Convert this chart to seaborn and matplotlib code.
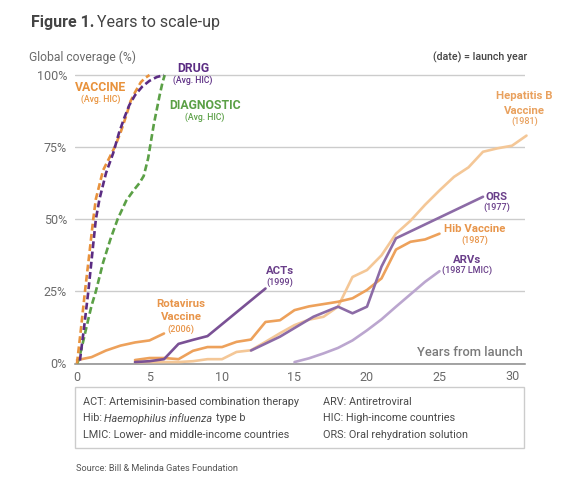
import numpy as np
import pandas as pd
import seaborn as sns
import matplotlib
matplotlib.use("Agg")
import matplotlib.pyplot as plt
from matplotlib.patches import Rectangle
from matplotlib.transforms import blended_transform_factory

# ---------------- data ----------------
vaccine_x = [0, 0.25, 0.55, 0.85, 1.12, 1.3, 1.8, 2.2, 2.6, 3.0, 3.4, 3.7, 4.0, 4.4, 4.7, 5.0]
vaccine_y = [0, 11, 25, 38, 50, 57, 67, 71, 75, 80, 86, 91, 94, 97.5, 99, 100]

drug_x = [0.2, 0.5, 0.78, 1.05, 1.3, 1.55, 2.0, 2.5, 2.9, 3.25, 3.6, 4.0, 4.5, 5.0, 5.5, 6.0]
drug_y = [1, 13, 25, 38, 50, 57, 66, 73, 80, 85, 89.5, 93, 96, 98, 99.3, 100]

diag_x = [0, 0.1, 0.35, 0.67, 1.0, 1.3, 1.8, 2.3, 2.8, 3.4, 3.9, 4.3, 4.6, 4.9, 5.1, 5.3, 5.5, 5.7, 5.9, 6.05]
diag_y = [0, 1, 6, 13, 20, 25, 35, 43, 50, 56.5, 60, 62.5, 65, 71, 77, 83, 88, 93, 97.5, 100]

rota_x = [0, 1, 2, 3, 4, 5, 6]
rota_y = [1.2, 2.2, 4.5, 6.2, 7.3, 8, 10.4]

acts_x = [4, 5, 6, 7, 8, 9, 13]
acts_y = [0.5, 0.8, 1.5, 6.8, 8.2, 9.5, 26]

hib_x = list(range(4, 26))
hib_y = [1.2, 1.9, 1.9, 1.5, 4.4, 5.7, 5.7, 7.5, 8.3, 14.4, 15, 18.5, 19.8, 20.6, 21.4,
         22.6, 25.5, 29.5, 39.5, 42.2, 43, 45]

hepb_x = list(range(4, 32))
hepb_y = [0.5, 0.5, 0.5, 0.5, 0.8, 1.5, 1.5, 4, 4.6, 7.5, 10.5, 13.3, 15.2, 16.2, 19.7,
          30, 32.4, 37.5, 45, 49.5, 55, 60, 64.7, 68, 73.4, 74.6, 75.5, 79]

ors_x = [12, 14, 16.3, 18, 19, 20, 21, 22, 28]
ors_y = [4.5, 9.3, 16.2, 19.7, 17.4, 19.7, 33.6, 43.4, 57.8]

arv_x = [15, 16, 17, 18, 19, 20, 21, 22, 23, 24, 25]
arv_y = [0.5, 1.8, 3.5, 5.4, 8, 11.5, 15.3, 19.7, 24, 28.3, 32]

y_ticks = [0, 25, 50, 75, 100]
y_ticklabels = ["0%", "25%", "50%", "75%", "100%"]
x_ticks = [0, 5, 10, 15, 20, 25]

# ---------------- figure ----------------
sns.set_style("white")
plt.rcParams["font.family"] = ["Roboto", "DejaVu Sans"]

W, H = 573, 482
fig = plt.figure(figsize=(W / 100, H / 100), dpi=100)
ax = fig.add_axes([75 / W, 1 - 363.5 / H, 450 / W, (363.5 - 63.5) / H])

ORANGE = "#E8923C"
PURPLE_D = "#5B2C83"
GREEN = "#5BA046"
ORANGE_S = "#EDA15B"
LIGHT_OR = "#F4C797"
ACT_P = "#7A5195"
ORS_P = "#8C6BA6"
ARV_P = "#BBA6CF"

dash = (0, (2.6, 1.3))
series = [
    (vaccine_x, vaccine_y, ORANGE, dash, 5),
    (drug_x, drug_y, PURPLE_D, dash, 6),
    (diag_x, diag_y, GREEN, dash, 4),
    (arv_x, arv_y, ARV_P, "-", 2),
    (hepb_x, hepb_y, LIGHT_OR, "-", 2),
    (hib_x, hib_y, ORANGE_S, "-", 3),
    (ors_x, ors_y, ORS_P, "-", 3),
    (acts_x, acts_y, ACT_P, "-", 3),
    (rota_x, rota_y, ORANGE_S, "-", 3),
]
for xs, ys, c, ls, z in series:
    df = pd.DataFrame({"x": xs, "y": ys})
    sns.lineplot(data=df, x="x", y="y", ax=ax, color=c, linewidth=1.9,
                 linestyle=ls, estimator=None, sort=False, clip_on=False, zorder=z)

ax.set_xlim(-2 / 14.5, 448 / 14.5)
ax.set_ylim(0, 104)
ax.set_yticks(y_ticks)
ax.set_yticklabels(y_ticklabels)
ax.set_xticks(x_ticks)
ax.set_xticklabels([str(v) for v in x_ticks])
ax.set_xlabel("")
ax.set_ylabel("")
ax.yaxis.grid(True, color="#cccccc", linewidth=1.0)
ax.xaxis.grid(False)
ax.set_axisbelow(True)
for s in ["left", "top", "right"]:
    ax.spines[s].set_visible(False)
ax.spines["bottom"].set_color("#8a8a8a")
ax.spines["bottom"].set_linewidth(1.1)
ax.spines["bottom"].set_zorder(1)
ax.tick_params(axis="y", length=0, pad=5.8, labelsize=9, labelcolor="#6a6a6a")
ax.tick_params(axis="x", length=0, pad=5.5, labelsize=9, labelcolor="#6a6a6a")

trans = blended_transform_factory(ax.transData, ax.transAxes)
ax.text(30, -0.022, "30", transform=trans, ha="center", va="top",
        fontsize=9, color="#6a6a6a")


def ftext(x, y, s, **kw):
    kw.setdefault("va", "center")
    return fig.text(x / W, 1 - y / H, s, **kw)


# title
fig.canvas.draw()
r = fig.canvas.get_renderer()
t1 = ftext(31, 23, "Figure 1.", fontsize=11.5, fontweight="bold", color="#444444")
bb = t1.get_window_extent(renderer=r)
ftext(bb.x1 + 3, 23, "Years to scale-up", fontsize=11.5, color="#444444")

ftext(29, 57, "Global coverage (%)", fontsize=8.7, color="#6a6a6a")
ftext(527, 57, "(date) = launch year", fontsize=7.7, color="#444444", ha="right",
      fontweight="medium")
ftext(523, 352.7, "Years from launch", fontsize=9.3, color="#7a7a7a", ha="right",
      fontweight="medium")

# series labels
def label(x, ys, lines, color, sizes, weights):
    for y, s, fs, fw in zip(ys, lines, sizes, weights):
        ftext(x, y, s, ha="center", color=color, fontsize=fs, fontweight=fw)

label(101, [87.7, 99.3], ["VACCINE", "(Avg. HIC)"], ORANGE, [8.8, 6.2], ["bold", "medium"])
label(193, [69, 80.7], ["DRUG", "(Avg. HIC)"], PURPLE_D, [8.8, 6.2], ["bold", "medium"])
label(205, [105.7, 117.3], ["DIAGNOSTIC", "(Avg. HIC)"], GREEN, [8.8, 6.2], ["bold", "medium"])
label(181, [304, 317, 329], ["Rotavirus", "Vaccine", "(2006)"], "#E8954A",
      [8.2, 8.2, 6.5], ["bold", "bold", "medium"])
label(280, [270.7, 282.3], ["ACTs", "(1999)"], "#6A3F8A", [8.2, 6.5], ["bold", "medium"])
label(524.5, [96, 110.7, 121.7], ["Hepatitis B", "Vaccine", "(1981)"], "#E9A15E",
      [8.2, 8.2, 6.5], ["bold", "bold", "medium"])
label(496.5, [196.7, 207.7], ["ORS", "(1977)"], "#6A3F8A", [8.2, 6.5], ["bold", "medium"])
label(474.7, [229, 240.7], ["Hib Vaccine", "(1987)"], "#E8954A", [8.2, 6.5], ["bold", "medium"])
label(467.5, [260, 270.7], ["ARVs", "(1987 LMIC)"], "#6A3F8A", [8.2, 6.5], ["bold", "medium"])

# glossary box
fig.patches.append(Rectangle((75 / W, 1 - 448.3 / H), 449.3 / W, 61 / H,
                             transform=fig.transFigure, fill=False,
                             edgecolor="#cccccc", linewidth=1.0))
GC = "#4a4a4a"
GS = 7.8
ftext(82.7, 401.7, "ACT: Artemisinin-based combination therapy", fontsize=GS, color=GC)
h1 = ftext(82.7, 418.3, "Hib: ", fontsize=GS, color=GC)
bb = h1.get_window_extent(renderer=r)
h2 = fig.text(bb.x1 / W, 1 - 418.3 / H, "Haemophilus influenza", fontsize=GS,
              color=GC, style="italic", va="center")
bb2 = h2.get_window_extent(renderer=r)
fig.text((bb2.x1 + 3) / W, 1 - 418.3 / H, "type b", fontsize=GS, color=GC, va="center")
ftext(82.7, 435, "LMIC: Lower- and middle-income countries", fontsize=GS, color=GC)
ftext(323.3, 401.7, "ARV: Antiretroviral", fontsize=GS, color=GC)
ftext(323.3, 418.3, "HIC: High-income countries", fontsize=GS, color=GC)
ftext(323.3, 435, "ORS: Oral rehydration solution", fontsize=GS, color=GC)

ftext(75.7, 468.3, "Source: Bill & Melinda Gates Foundation", fontsize=6.6, color="#555555")

fig.savefig("out.png", dpi=100)
